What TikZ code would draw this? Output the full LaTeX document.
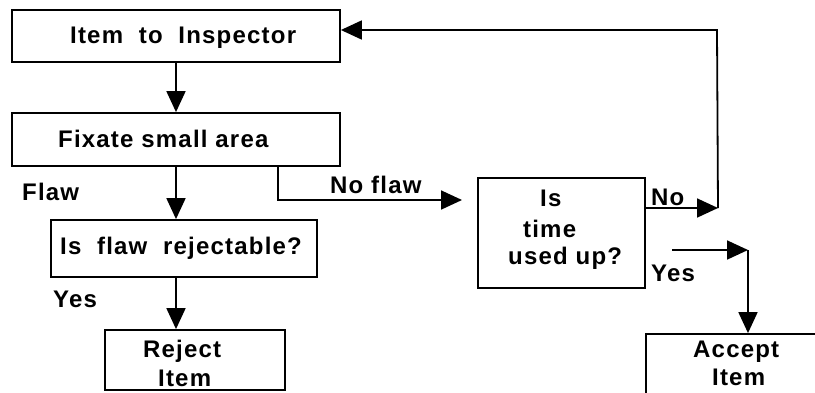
\documentclass[tikz,border=0pt]{standalone}
\usepackage{fontspec}
\setmainfont{Liberation Sans}[LetterSpace=5]
\usetikzlibrary{arrows.meta}
\begin{document}
\begin{tikzpicture}[x=1pt,y=-1pt,
  box/.style={draw,line width=1.8pt,rectangle,inner sep=0pt},
  txt/.style={anchor=base west,inner sep=0pt,font=\fontsize{24}{27}\selectfont\bfseries},
  arr/.style={line width=1.8pt,-{Triangle[length=21pt,width=19pt]}},
  ln/.style={line width=1.8pt}]
\useasboundingbox[fill=white] (0,0) rectangle (815,392);
% boxes
\node[box,minimum width=328pt,minimum height=52pt] (b1) at (176,36) {};
\node[box,minimum width=328pt,minimum height=53pt] (b2) at (176,139.5) {};
\node[box,minimum width=266pt,minimum height=57pt] (b3) at (184,248.5) {};
\node[box,minimum width=180pt,minimum height=60pt] (b4) at (195,360) {};
\node[box,minimum width=167pt,minimum height=110pt] (b5) at (561.5,233) {};
\node[box,minimum width=184pt,minimum height=70pt] (b6) at (738,369) {};
% texts
\node[txt] (t1) at (70,43) {Item~~to~~Inspector};
\node[txt] (t2) at (58,147) {Fixate small area};
\node[txt] (t3) at (60,254) {Is~~flaw~~rejectable?};
\node[txt] (t4a) at (143,357) {Reject};
\node[txt] (t4b) at (158,386) {Item};
\node[txt] (t5a) at (540,206) {Is};
\node[txt] (t5b) at (523,237) {time};
\node[txt] (t5c) at (508,264) {used up?};
\node[txt] (t6a) at (693,357) {Accept};
\node[txt] (t6b) at (712,385) {Item};
\node[txt] (lflaw) at (22,200) {Flaw};
\node[txt] (lnoflaw) at (330,193) {No flaw};
\node[txt] (lyes1) at (53,307) {Yes};
\node[txt] (lno) at (651,205) {No};
\node[txt] (lyes2) at (651,281) {Yes};
% free ends
\coordinate (nf) at (462,200);
\coordinate (noend) at (718,208);
\coordinate (loopc) at (717,30);
\coordinate (ystart) at (672,250);
\coordinate (yend) at (748,250);
% connectors
\draw[arr] (b1.south) -- (b2.north);
\draw[arr] (b2.south) -- (b2.south |- b3.north);
\draw[arr] (b2.south |- b3.south) -- (b2.south |- b4.north);
\draw[arr] ([xshift=102pt]b2.south) |- (nf);
\draw[arr] (b5.east |- noend) -- (noend);
\draw[arr] (noend) -- (loopc) -- (b1.east |- loopc);
\draw[arr] (ystart) -- (yend);
\draw[arr] (yend) -- (yend |- b6.north);
\end{tikzpicture}
\end{document}
